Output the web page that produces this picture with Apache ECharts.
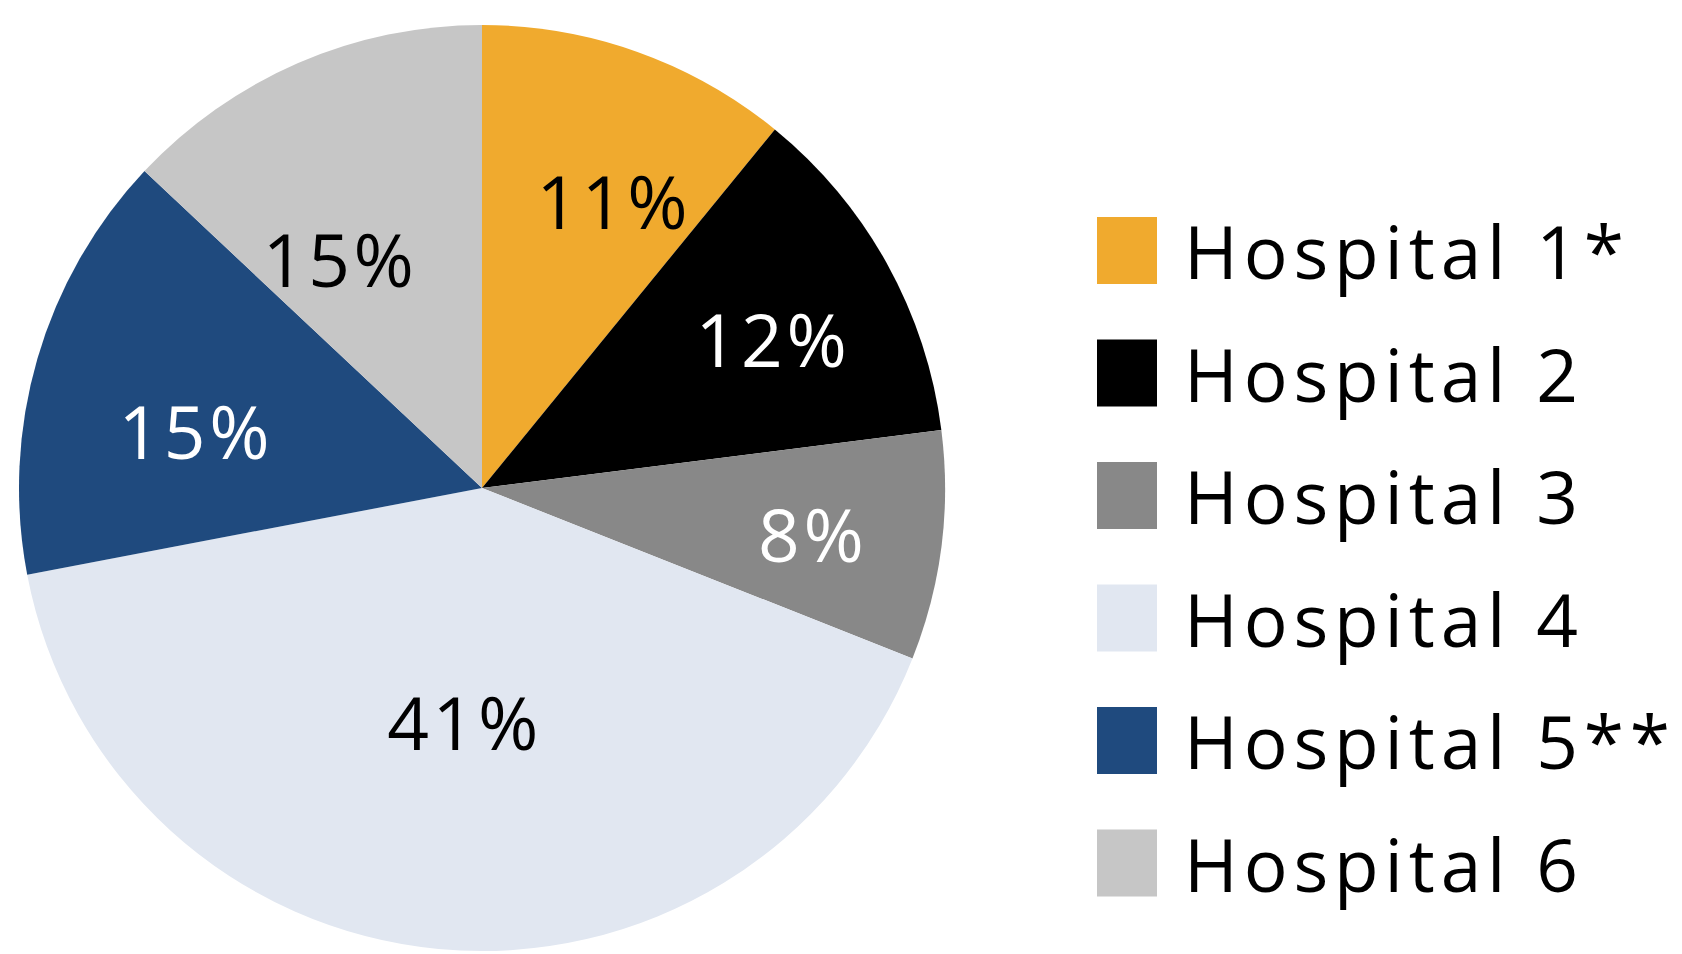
<!DOCTYPE html>
<html>
<head>
<meta charset="utf-8">
<style>
  html, body { margin: 0; padding: 0; background: #ffffff; }
  #pie { width: 1682px; height: 954px; }
  /* the original text is set with a bit of tracking */
  #pie text { letter-spacing: 0.05em; }
  #pie text:not([text-anchor="middle"]) { letter-spacing: 0.08em; }
</style>
<script src="https://cdn.jsdelivr.net/npm/echarts@6/dist/echarts.min.js"></script>
</head>
<body>
<div id="pie"></div>
<script>
// hospitals and their share, plus the printed labels
const hospitals = ["Hospital 1*", "Hospital 2", "Hospital 3", "Hospital 4", "Hospital 5**", "Hospital 6"];
const shares = [10.9, 12.1, 8.0, 41.0, 15.0, 13.0];
const shareLabels = ["11%", "12%", "8%", "41%", "15%", "15%"];

const colors = ["#F0AA2E", "#000000", "#888888", "#E1E7F1", "#1F4A7E", "#C6C6C6"];
const labelColors = ["#000000", "#ffffff", "#ffffff", "#000000", "#ffffff", "#000000"];
// label placement: fraction of the radius and a small turn (degrees) off the slice middle
const labelRadius = [0.678, 0.704, 0.722, 0.513, 0.629, 0.578];
const labelTurn = [5.2, 2.2, 1.1, -1.2, -5.5, -8.6];

var myChart = echarts.init(document.getElementById("pie"), null, { renderer: "svg" });

var option = {
  backgroundColor: "#ffffff",
  animation: false,
  legend: {
    orient: "vertical",
    left: 1097,
    top: 214,
    padding: 0,
    itemWidth: 60,
    itemHeight: 67,
    itemGap: 49.5,
    icon: "rect",
    textStyle: {
      fontFamily: "Open Sans",
      fontSize: 73,
      color: "#000000",
      padding: [0, 0, 0, 22],
    },
    data: hospitals,
  },
  series: [
    {
      type: "pie",
      center: [482, 488],
      radius: [0, 463],
      startAngle: 90,
      clockwise: true,
      avoidLabelOverlap: false,
      label: {
        show: true,
        position: "inside",
        fontFamily: "Open Sans",
        fontSize: 73,
        formatter: function (p) {
          return shareLabels[p.dataIndex];
        },
      },
      labelLine: { show: false },
      labelLayout: function (params) {
        var i = params.dataIndex;
        var lay = myChart.getModel().getSeriesByIndex(0).getData().getItemLayout(i);
        var mid = (lay.startAngle + lay.endAngle) / 2 + (labelTurn[i] * Math.PI) / 180;
        var rr = lay.r * labelRadius[i];
        return {
          x: lay.cx + rr * Math.cos(mid),
          y: lay.cy + rr * Math.sin(mid) - 3,
        };
      },
      emphasis: { disabled: true },
      data: hospitals.map(function (name, i) {
        return {
          name: name,
          value: shares[i],
          itemStyle: { color: colors[i] },
          label: { color: labelColors[i] },
        };
      }),
    },
  ],
};

myChart.setOption(option);
</script>
</body>
</html>
